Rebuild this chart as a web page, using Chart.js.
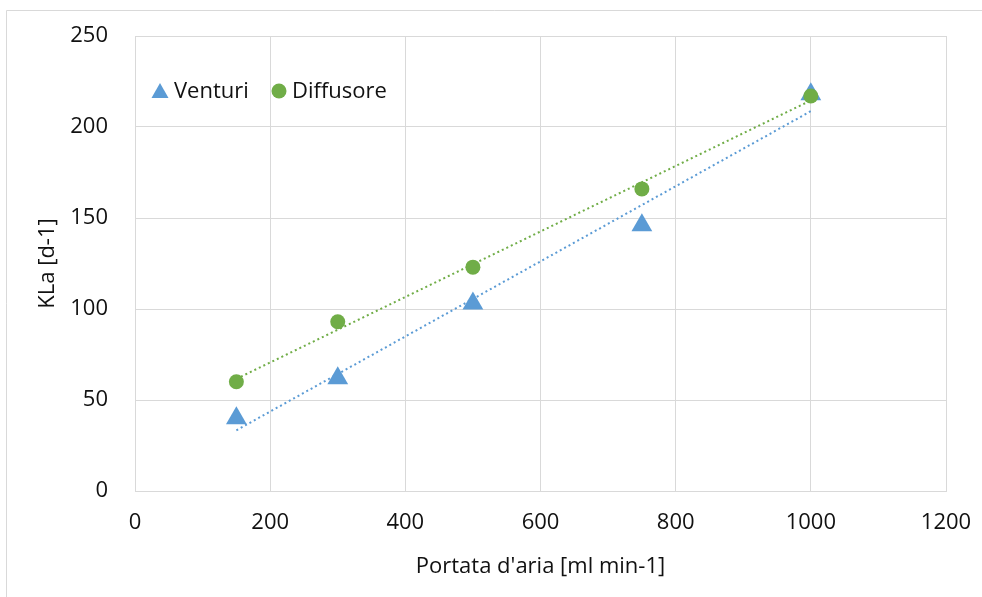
<!DOCTYPE html>
<html>
<head>
<meta charset="utf-8">
<script src="https://cdn.jsdelivr.net/npm/chart.js@4/dist/chart.umd.min.js"></script>
<style>
html,body{margin:0;padding:0;background:#fff;}
#wrap{position:relative;width:982px;height:597px;}
</style>
</head>
<body>
<div id="wrap"><canvas id="c" width="982" height="597"></canvas></div>
<script>
const portata = [150, 300, 500, 750, 1000];
const venturi = [40, 62, 103, 146, 218];
const diffusore = [60, 93, 123, 166, 217];
const seriesNames = ["Venturi", "Diffusore"];
const xTitle = "Portata d'aria [ml min-1]";
const yTitle = "KLa [d-1]";

const BLUE = '#5b9bd5';
const GREEN = '#70ad47';
const FONT = 'Open Sans';
const FS = 22;

function fit(xs, ys) {
  const n = xs.length;
  const mx = xs.reduce((a,b)=>a+b,0)/n, my = ys.reduce((a,b)=>a+b,0)/n;
  let sxx=0, sxy=0;
  for (let i=0;i<n;i++){ sxx += (xs[i]-mx)**2; sxy += (xs[i]-mx)*(ys[i]-my); }
  const m = sxy/sxx, b = my - m*mx;
  const x0 = xs[0], x1 = xs[n-1];
  return [{x:x0, y:m*x0+b}, {x:x1, y:m*x1+b}];
}
const pts = (xs, ys) => xs.map((x,i)=>({x, y:ys[i]}));

const legendPlugin = {
  id: 'customLegend',
  afterDraw(chart) {
    const ctx = chart.ctx, ca = chart.chartArea;
    const y = ca.top + 55;
    ctx.save();
    ctx.font = FS + 'px ' + FONT;
    ctx.textBaseline = 'middle';
    const tx = ca.left + 25;
    ctx.fillStyle = BLUE;
    ctx.beginPath();
    ctx.moveTo(tx, y-8); ctx.lineTo(tx+8.5, y+7); ctx.lineTo(tx-8.5, y+7); ctx.closePath(); ctx.fill();
    ctx.fillStyle = '#111';
    ctx.fillText(seriesNames[0], tx + 14, y+1);
    const cx = ca.left + 144;
    ctx.fillStyle = GREEN;
    ctx.beginPath(); ctx.arc(cx, y, 7.5, 0, Math.PI*2); ctx.fill();
    ctx.fillStyle = '#111';
    ctx.fillText(seriesNames[1], cx + 13, y+1);
    ctx.restore();
  },
  beforeDraw(chart) {
    const ctx = chart.ctx;
    ctx.save();
    ctx.fillStyle = '#fff';
    ctx.fillRect(0,0,chart.width,chart.height);
    ctx.strokeStyle = '#d9d9d9';
    ctx.lineWidth = 1;
    ctx.beginPath();
    ctx.moveTo(6.5, chart.height); ctx.lineTo(6.5, 10.5); ctx.lineTo(chart.width, 10.5);
    ctx.stroke();
    ctx.restore();
  }
};

new Chart(document.getElementById('c'), {
  type: 'scatter',
  data: {
    datasets: [
      { label: seriesNames[0] + ' trend', data: fit(portata, venturi), showLine: true,
        borderColor: BLUE, borderWidth: 2, borderDash: [2, 3], pointRadius: 0, fill: false, order: 3 },
      { label: seriesNames[1] + ' trend', data: fit(portata, diffusore), showLine: true,
        borderColor: GREEN, borderWidth: 2, borderDash: [2, 3], pointRadius: 0, fill: false, order: 4 },
      { label: seriesNames[0], data: pts(portata, venturi), pointStyle: 'triangle', pointRadius: 12,
        backgroundColor: BLUE, borderColor: BLUE, borderWidth: 0, order: 2 },
      { label: seriesNames[1], data: pts(portata, diffusore), pointStyle: 'circle', pointRadius: 7.5,
        backgroundColor: GREEN, borderColor: GREEN, borderWidth: 0, order: 1 }
    ]
  },
  options: {
    responsive: false,
    animation: false,
    layout: { padding: { left: 0, right: 36, top: 36, bottom: 0 } },
    plugins: { legend: { display: false }, tooltip: { enabled: false } },
    scales: {
      x: {
        type: 'linear', min: 0, max: 1200,
        ticks: { stepSize: 200, color: '#111', font: { family: FONT, size: FS }, padding: 19,
                 callback: v => String(v) },
        grid: { color: '#d9d9d9', lineWidth: 1, drawTicks: false },
        border: { color: '#d9d9d9' },
        title: { display: true, text: xTitle, color: '#111', font: { family: FONT, size: FS }, padding: { top: 10, bottom: 17 } },
        afterFit(s) { s.height = 106; s.paddingLeft = 0; s.paddingRight = 0; }
      },
      y: {
        type: 'linear', min: 0, max: 250,
        ticks: { stepSize: 50, color: '#111', font: { family: FONT, size: FS }, padding: 27,
                 callback: v => String(v) },
        grid: { color: '#d9d9d9', lineWidth: 1, drawTicks: false },
        border: { color: '#d9d9d9' },
        title: { display: true, text: yTitle, color: '#111', font: { family: FONT, size: FS }, padding: { top: 35, bottom: 0 } },
        afterFit(s) { s.width = 135; s.paddingTop = 0; s.paddingBottom = 0; }
      }
    }
  },
  plugins: [legendPlugin]
});
</script>
</body>
</html>
